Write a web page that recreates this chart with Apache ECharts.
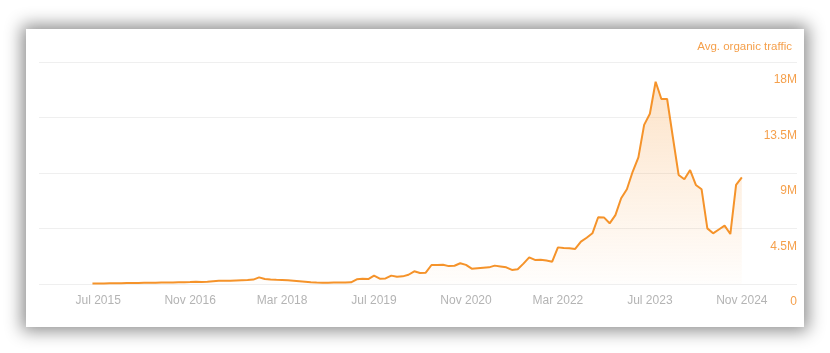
<!DOCTYPE html>
<html>
<head>
<meta charset="utf-8">
<script src="https://cdn.jsdelivr.net/npm/echarts@6/dist/echarts.min.js"></script>
<style>
html,body{margin:0;padding:0;background:#fff;width:830px;height:353px;overflow:hidden;}
#card{position:absolute;left:26px;top:29px;width:778px;height:298px;background:#fff;box-shadow:0 0 16px 4px rgba(0,0,0,0.45);}
#chart{position:absolute;left:0;top:0;width:830px;height:353px;}
</style>
</head>
<body>
<div id="card"></div>
<div id="chart"></div>
<script>
// Monthly average organic traffic (millions), Jun 2015 .. Nov 2024
var values = [
  0.05, 0.05, 0.05, 0.06, 0.06, 0.07, 0.08, 0.09, 0.09, 0.10,
  0.11, 0.11, 0.12, 0.12, 0.13, 0.14, 0.15, 0.16, 0.18, 0.17,
  0.19, 0.23, 0.26, 0.27, 0.26, 0.28, 0.30, 0.32, 0.36, 0.54,
  0.40, 0.36, 0.34, 0.33, 0.30, 0.26, 0.22, 0.18, 0.14, 0.12,
  0.11, 0.11, 0.12, 0.12, 0.13, 0.14, 0.38, 0.42, 0.40, 0.68,
  0.43, 0.45, 0.68, 0.58, 0.62, 0.75, 1.03, 0.89, 0.92, 1.54,
  1.54, 1.56, 1.45, 1.48, 1.68, 1.55, 1.24, 1.28, 1.32, 1.35,
  1.49, 1.42, 1.35, 1.14, 1.19, 1.65, 2.16, 1.95, 1.97, 1.90,
  1.81, 2.97, 2.92, 2.90, 2.84, 3.43, 3.75, 4.11, 5.41, 5.40,
  4.92, 5.59, 6.95, 7.68, 9.10, 10.27, 12.90, 13.80, 16.40, 15.00,
  15.00, 11.90, 8.84, 8.49, 9.24, 8.03, 7.68, 4.51, 4.11, 4.42,
  4.73, 4.05, 8.03, 8.65
];
var firstMonthOffset = -1; // Jun 2015 is one month before Jul 2015
var xTickPositions = [0, 16, 32, 48, 64, 80, 96, 112];
var xTickLabels = ['Jul 2015', 'Nov 2016', 'Mar 2018', 'Jul 2019', 'Nov 2020', 'Mar 2022', 'Jul 2023', 'Nov 2024'];
var yTickLabels = ['0', '4.5M', '9M', '13.5M', '18M'];

var data = values.map(function (v, k) { return [k + firstMonthOffset, v]; });

var chart = echarts.init(document.getElementById('chart'), null, {renderer: 'canvas'});
chart.setOption({
  backgroundColor: 'transparent',
  animation: false,
  title: {
    text: 'Avg. organic traffic',
    right: 33, top: 36,
    textStyle: {color: '#f5a04c', fontSize: 11.5, fontWeight: 'normal', fontFamily: 'Liberation Sans, Arial, sans-serif'}
  },
  grid: {left: 39, right: 33, top: 62, bottom: 69},
  xAxis: {
    type: 'value',
    min: -10.3, max: 121.6,
    axisLine: {show: false},
    axisTick: {show: false},
    splitLine: {show: false},
    axisLabel: {
      customValues: xTickPositions,
      margin: 11,
      color: '#b4b4b4',
      fontSize: 12,
      fontFamily: 'Liberation Sans, Arial, sans-serif',
      formatter: function (v) {
        var i = xTickPositions.indexOf(Math.round(v));
        return i >= 0 ? xTickLabels[i] : '';
      }
    }
  },
  yAxis: {
    type: 'value',
    position: 'right',
    min: 0, max: 18, interval: 4.5,
    axisLine: {show: false},
    axisTick: {show: false},
    splitLine: {lineStyle: {color: '#efefef', width: 1}},
    axisLabel: {
      inside: true,
      margin: 0,
      color: '#f5a04c',
      fontSize: 12,
      fontFamily: 'Liberation Sans, Arial, sans-serif',
      verticalAlign: 'top',
      padding: [12, 0, 0, 0],
      showMinLabel: true,
      showMaxLabel: true,
      formatter: function (v) {
        var i = Math.round(v / 4.5);
        return yTickLabels[i] !== undefined ? yTickLabels[i] : '';
      }
    }
  },
  series: [{
    type: 'line',
    data: data,
    symbol: 'none',
    smooth: false,
    lineStyle: {color: '#f5932a', width: 2},
    areaStyle: {
      color: new echarts.graphic.LinearGradient(0, 0, 0, 1, [
        {offset: 0, color: 'rgba(247,150,50,0.38)'},
        {offset: 1, color: 'rgba(247,150,50,0.02)'}
      ])
    }
  }]
});
</script>
</body>
</html>
